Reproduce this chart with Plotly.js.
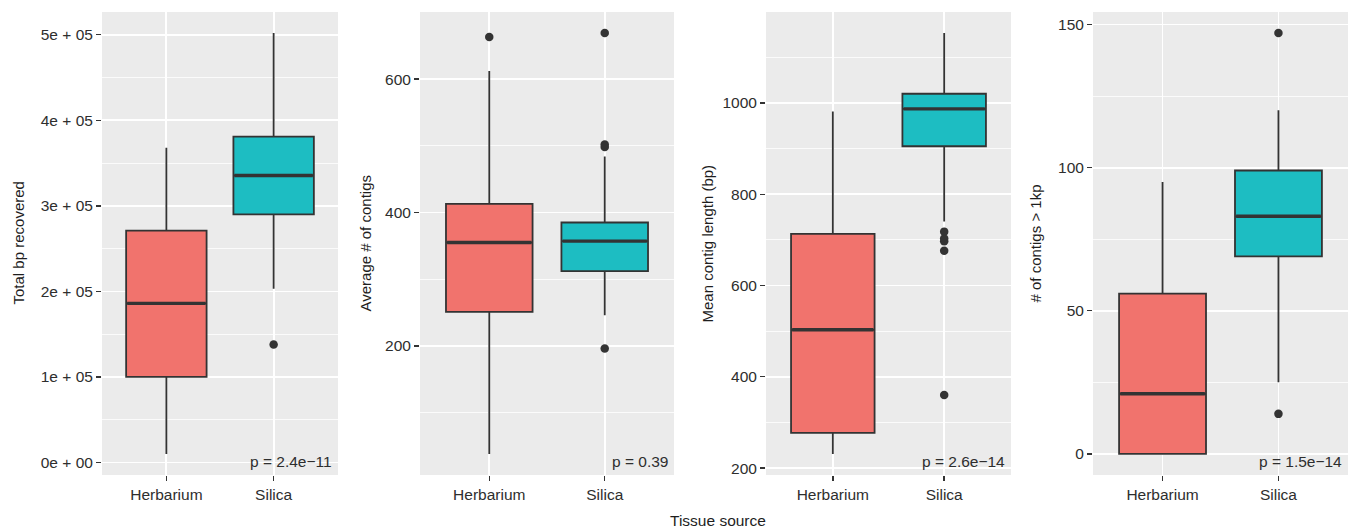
<!DOCTYPE html>
<html><head><meta charset="utf-8">
<script src="https://cdn.plot.ly/plotly-3.0.1.min.js"></script>
<style>html,body{margin:0;padding:0;background:#fff}#chart{width:1351px;height:529px}</style>
</head><body><div id="chart"></div>
<script>
const categories = ['Herbarium', 'Silica'];
const xAxisTitle = 'Tissue source';

// box stats: [lower whisker, Q1, median, Q3, upper whisker]
const totalBpHerbarium = [10000, 100000, 186000, 271000, 368000];
const totalBpSilica = [203000, 290000, 335500, 381000, 502000];
const totalBpHerbariumOutliers = [];
const totalBpSilicaOutliers = [138000];

const avgContigsHerbarium = [38, 251, 355, 413, 612];
const avgContigsSilica = [246, 312, 357, 385, 484];
const avgContigsHerbariumOutliers = [663];
const avgContigsSilicaOutliers = [196, 498, 502, 669];

const meanLenHerbarium = [231, 277, 503, 713, 981];
const meanLenSilica = [740, 905, 987, 1020, 1153];
const meanLenHerbariumOutliers = [];
const meanLenSilicaOutliers = [360, 676, 697, 703, 718];

const contigs1kHerbarium = [0, 0, 21, 56, 95];
const contigs1kSilica = [25, 69, 83, 99, 120];
const contigs1kHerbariumOutliers = [];
const contigs1kSilicaOutliers = [14, 147];

const yTitles = ['Total bp recovered', 'Average # of contigs', 'Mean contig length (bp)', '# of contigs > 1kp'];
const pValues = ['p = 2.4e\u221211', 'p = 0.39', 'p = 2.6e\u221214', 'p = 1.5e\u221214'];

const bpTickVals = [0, 100000, 200000, 300000, 400000, 500000];
const bpTickText = ['0e + 00', '1e + 05', '2e + 05', '3e + 05', '4e + 05', '5e + 05'];
const avgTickVals = [200, 400, 600];
const lenTickVals = [200, 400, 600, 800, 1000];
const k1TickVals = [0, 50, 100, 150];

// styling / layout constants
const W = 1351, H = 529;
const fillColors = ['#F1736D', '#1DBDC2'];
const lineColor = '#333333';
const font = {family: 'Liberation Sans, Arial, sans-serif', size: 15.5, color: '#2e2e2e'};
const panelsPx = [[102, 338], [420, 674], [766, 1011], [1093, 1348]];
const plotTop = 12, plotBottom = 475;
const yTitlePx = [18, 365, 707, 1035];

const panels = [
  {stats: [totalBpHerbarium, totalBpSilica], outliers: [totalBpHerbariumOutliers, totalBpSilicaOutliers],
   tickvals: bpTickVals, ticktext: bpTickText, minorStep: 50000},
  {stats: [avgContigsHerbarium, avgContigsSilica], outliers: [avgContigsHerbariumOutliers, avgContigsSilicaOutliers],
   tickvals: avgTickVals, ticktext: avgTickVals.map(String), minorStep: 100},
  {stats: [meanLenHerbarium, meanLenSilica], outliers: [meanLenHerbariumOutliers, meanLenSilicaOutliers],
   tickvals: lenTickVals, ticktext: lenTickVals.map(String), minorStep: 100},
  {stats: [contigs1kHerbarium, contigs1kSilica], outliers: [contigs1kHerbariumOutliers, contigs1kSilicaOutliers],
   tickvals: k1TickVals, ticktext: k1TickVals.map(String), minorStep: 25}
];

const boxWidth = 0.75;
const traces = [];
const layout = {
  width: W, height: H,
  margin: {l: 0, r: 0, t: 0, b: 0},
  paper_bgcolor: '#ffffff', plot_bgcolor: '#EBEBEB',
  showlegend: false, font: font,
  annotations: [], shapes: []
};

panels.forEach((p, pi) => {
  const sfx = pi === 0 ? '' : String(pi + 1);
  const xa = 'x' + sfx, ya = 'y' + sfx;
  // y range with 5% expansion over data extent
  let all = [];
  p.stats.forEach((s, ci) => { all = all.concat(s, p.outliers[ci]); });
  const mn = Math.min(...all), mx = Math.max(...all);
  const pad = (mx - mn) * 0.05;
  const yr = [mn - pad, mx + pad];

  p.stats.forEach((s, ci) => {
    const xpos = ci + 1;
    traces.push({
      type: 'box', xaxis: xa, yaxis: ya, x: [xpos],
      lowerfence: [s[0]], q1: [s[1]], median: [s[2]], q3: [s[3]], upperfence: [s[4]],
      width: boxWidth, whiskerwidth: 0, boxpoints: false,
      fillcolor: fillColors[ci], line: {color: lineColor, width: 1.8},
      hoverinfo: 'skip'
    });
    traces.push({
      type: 'scatter', mode: 'lines', xaxis: xa, yaxis: ya,
      x: [xpos - boxWidth / 2 + 0.01, xpos + boxWidth / 2 - 0.01], y: [s[2], s[2]],
      line: {color: lineColor, width: 3.4}, hoverinfo: 'skip'
    });
    if (p.outliers[ci].length) {
      traces.push({
        type: 'scatter', mode: 'markers', xaxis: xa, yaxis: ya,
        x: p.outliers[ci].map(() => xpos), y: p.outliers[ci],
        marker: {color: lineColor, size: 8.5}, hoverinfo: 'skip'
      });
    }
  });

  const minorVals = [];
  for (let v = Math.ceil(yr[0] / p.minorStep) * p.minorStep; v <= yr[1]; v += p.minorStep) minorVals.push(v);

  layout['xaxis' + sfx] = {
    domain: [panelsPx[pi][0] / W, panelsPx[pi][1] / W], anchor: ya,
    range: [0.4, 2.6], tickmode: 'array', tickvals: [1, 2], ticktext: categories,
    showgrid: true, gridcolor: '#ffffff', gridwidth: 1.8, zeroline: false, showline: false,
    ticks: 'outside', ticklen: 5, tickwidth: 1.4, tickcolor: lineColor,
    tickfont: font, fixedrange: true
  };
  layout['yaxis' + sfx] = {
    domain: [(H - plotBottom) / H, (H - plotTop) / H], anchor: xa,
    range: yr, tickmode: 'array', tickvals: p.tickvals, ticktext: p.ticktext,
    showgrid: true, gridcolor: '#ffffff', gridwidth: 1.8, zeroline: false, showline: false,
    minor: {tickmode: 'array', tickvals: minorVals, showgrid: true, gridcolor: '#ffffff', gridwidth: 0.8, ticks: ''},
    ticks: 'outside', ticklen: 5, tickwidth: 1.4, tickcolor: lineColor,
    tickfont: font, fixedrange: true
  };

  layout.annotations.push({
    text: pValues[pi], xref: xa + ' domain', yref: ya + ' domain',
    x: 1, y: (plotBottom - 461.5) / (plotBottom - plotTop), xanchor: 'right', yanchor: 'middle',
    xshift: -4, showarrow: false, font: font
  });
  layout.annotations.push({
    text: yTitles[pi], xref: 'paper', yref: 'paper',
    x: yTitlePx[pi] / W, y: (H - (plotTop + plotBottom) / 2) / H,
    xanchor: 'center', yanchor: 'middle', textangle: -90, showarrow: false,
    font: {family: font.family, size: 15, color: '#1e1e1e'}
  });
});

layout.annotations.push({
  text: xAxisTitle, xref: 'paper', yref: 'paper', x: 718 / W, y: (H - 520) / H,
  xanchor: 'center', yanchor: 'middle', showarrow: false,
  font: {family: font.family, size: 15.5, color: '#1e1e1e'}
});

Plotly.newPlot('chart', traces, layout, {displayModeBar: false, staticPlot: true});
</script>
</body></html>
